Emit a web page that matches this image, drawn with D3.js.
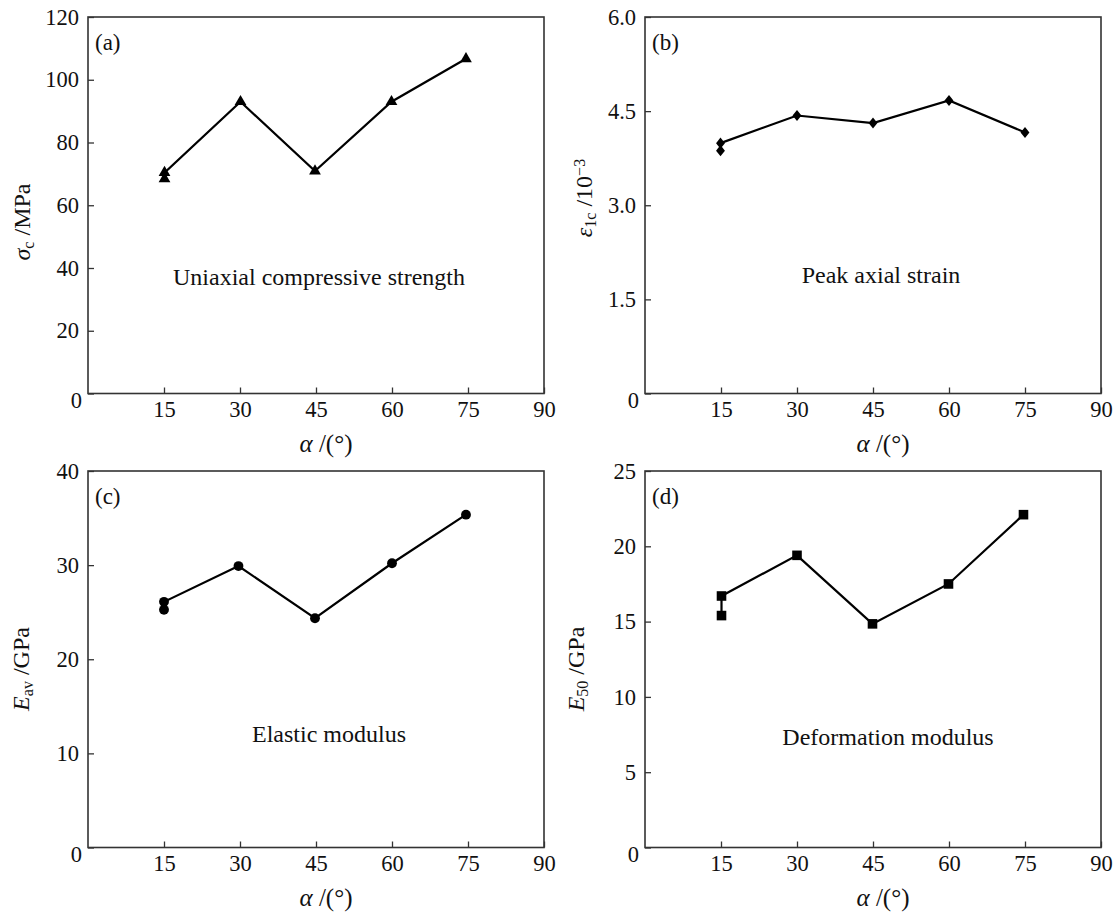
<!DOCTYPE html>
<html>
<head>
<meta charset="utf-8">
<script src="https://cdn.jsdelivr.net/npm/d3@7"></script>
<style>
  html, body { margin: 0; padding: 0; background: #fff; }
  svg { display: block; }
  text { font-family: "Liberation Serif", "Times New Roman", serif; fill: #111; }
</style>
</head>
<body>
<svg id="chart" width="1115" height="914"></svg>
<script>
// ---------- data ----------
const xTickValues = [15, 30, 45, 60, 75, 90];

const strengthX = [15.1, 15.1, 30.1, 44.8, 59.9, 74.6];
const strengthY = [68.4, 70.4, 93.0, 70.9, 93.0, 106.7];
const strengthTicks = [0, 20, 40, 60, 80, 100, 120];

const strainX = [14.9, 14.9, 30, 45, 60, 75];
const strainY = [3.87, 3.99, 4.43, 4.31, 4.67, 4.16];
const strainTicks = [0, 1.5, 3.0, 4.5, 6.0];

const elasticX = [15, 15, 29.7, 44.8, 60, 74.6];
const elasticY = [25.25, 26.1, 29.9, 24.36, 30.2, 35.36];
const elasticTicks = [0, 10, 20, 30, 40];

const deformX = [15.1, 15.1, 30, 44.9, 59.9, 74.7];
const deformY = [15.4, 16.7, 19.4, 14.85, 17.5, 22.1];
const deformTicks = [0, 5, 10, 15, 20, 25];

const panelTags = ["(a)", "(b)", "(c)", "(d)"];
const panelNotes = ["Uniaxial compressive strength", "Peak axial strain", "Elastic modulus", "Deformation modulus"];

// ---------- layout ----------
const svg = d3.select("#chart");
const W = 456, H = 376.5;

const diamond = {
  draw(ctx, size) {
    const h = Math.sqrt(size) * 0.62, w = h * 0.8;
    ctx.moveTo(0, -h); ctx.lineTo(w, 0); ctx.lineTo(0, h); ctx.lineTo(-w, 0); ctx.closePath();
  }
};

const panels = [
  { left: 88, top: 17, xs: strengthX, ys: strengthY, ticks: strengthTicks, fmt: d => String(d),
    sym: d3.symbolTriangle, size: 60, tag: panelTags[0], note: panelNotes[0],
    noteX: 319, noteY: 285, titleX: 30, titleY: 222 },
  { left: 645, top: 17, xs: strainX, ys: strainY, ticks: strainTicks, fmt: d => d === 0 ? "0" : d3.format(".1f")(d),
    sym: diamond, size: 80, tag: panelTags[1], note: panelNotes[1],
    noteX: 881, noteY: 283, titleX: 592, titleY: 198 },
  { left: 88, top: 471, xs: elasticX, ys: elasticY, ticks: elasticTicks, fmt: d => String(d),
    sym: d3.symbolCircle, size: 76, tag: panelTags[2], note: panelNotes[2],
    noteX: 329, noteY: 742, titleX: 29, titleY: 669 },
  { left: 645, top: 471, xs: deformX, ys: deformY, ticks: deformTicks, fmt: d => String(d),
    sym: d3.symbolSquare, size: 92, tag: panelTags[3], note: panelNotes[3],
    noteX: 888, noteY: 745, titleX: 584, titleY: 669 }
];

panels.forEach(p => {
  const g = svg.append("g").attr("transform", `translate(${p.left},${p.top})`);
  const x = d3.scaleLinear().domain([0, 90]).range([0, W]);
  const y = d3.scaleLinear().domain([0, d3.max(p.ticks)]).range([H, 0]);

  // x axis
  const xa = g.append("g").attr("transform", `translate(0,${H})`)
    .call(d3.axisBottom(x).tickValues(xTickValues).tickSizeInner(-6).tickSizeOuter(0).tickPadding(8));
  xa.select(".domain").remove();
  xa.selectAll("line").attr("stroke", "#333").attr("stroke-width", 1.3);
  xa.selectAll("text").attr("font-size", 22.5).attr("fill", "#111");

  // y axis
  const ya = g.append("g")
    .call(d3.axisLeft(y).tickValues(p.ticks).tickFormat(p.fmt).tickSizeInner(-6).tickSizeOuter(0).tickPadding(9));
  ya.select(".domain").remove();
  ya.selectAll("line").attr("stroke", "#333").attr("stroke-width", 1.3);
  ya.selectAll("text").attr("font-size", 22.5).attr("fill", "#111");
  ya.selectAll(".tick").filter(d => d === 0).select("text").attr("dy", "0.62em").attr("x", -6);

  // frame
  g.append("rect").attr("x", 0).attr("y", 0).attr("width", W).attr("height", H)
    .attr("fill", "none").attr("stroke", "#333").attr("stroke-width", 1.6);

  // line + markers
  const pts = p.xs.map((v, i) => [v, p.ys[i]]);
  g.append("path").datum(pts)
    .attr("fill", "none").attr("stroke", "#000").attr("stroke-width", 2.2)
    .attr("d", d3.line().x(d => x(d[0])).y(d => y(d[1])));
  g.selectAll(".mk").data(pts).join("path")
    .attr("transform", d => `translate(${x(d[0])},${y(d[1])})`)
    .attr("d", d3.symbol().type(p.sym).size(p.size))
    .attr("fill", "#000");

  // panel tag
  g.append("text").attr("x", 7).attr("y", 33).attr("font-size", 23).text(p.tag);

  // x title
  const xt = g.append("text").attr("x", W / 2 + 10).attr("y", H + 58)
    .attr("text-anchor", "middle").attr("font-size", 25);
  xt.append("tspan").attr("font-style", "italic").text("α");
  xt.append("tspan").text(" /(°)");
});

// annotations
panels.forEach(p => {
  svg.append("text").attr("x", p.noteX).attr("y", p.noteY)
    .attr("text-anchor", "middle").attr("font-size", 24).text(p.note);
});

// y titles (rotated)
function yTitle(p, parts) {
  const t = svg.append("text")
    .attr("transform", `translate(${p.titleX},${p.titleY}) rotate(-90)`)
    .attr("text-anchor", "middle").attr("font-size", 24);
  parts.forEach(q => {
    const s = t.append("tspan").text(q.t);
    if (q.i) s.attr("font-style", "italic");
    if (q.sub) s.attr("baseline-shift", "-25%").attr("font-size", 16);
    if (q.sup) s.attr("baseline-shift", "45%").attr("font-size", 16);
  });
}
yTitle(panels[0], [{ t: "σ", i: true }, { t: "c", sub: true }, { t: " /MPa" }]);
yTitle(panels[1], [{ t: "ε", i: true }, { t: "1c", sub: true }, { t: " /10" }, { t: "−3", sup: true }]);
yTitle(panels[2], [{ t: "E", i: true }, { t: "av", sub: true }, { t: " /GPa" }]);
yTitle(panels[3], [{ t: "E", i: true }, { t: "50", sub: true }, { t: " /GPa" }]);
</script>
</body>
</html>
